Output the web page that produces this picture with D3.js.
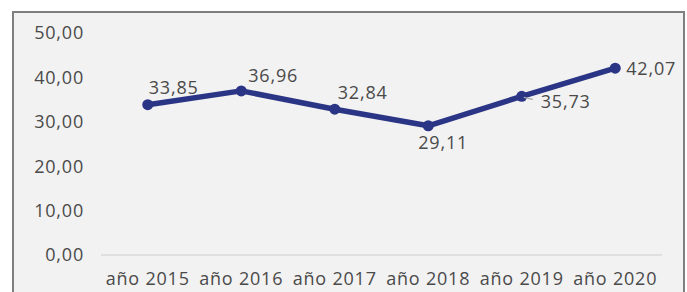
<!DOCTYPE html>
<html>
<head>
<meta charset="utf-8">
<script src="https://cdn.jsdelivr.net/npm/d3@7"></script>
<style>
  body { margin: 0; background: #fff; }
  text { font-family: "Open Sans", Lato, sans-serif; fill: #4a4a4a; letter-spacing: 0.8px; }
</style>
</head>
<body>
<div id="chart"></div>
<script>
const years = ["año 2015", "año 2016", "año 2017", "año 2018", "año 2019", "año 2020"]
const values = [33.85, 36.96, 32.84, 29.11, 35.73, 42.07]
const yTicks = [0, 10, 20, 30, 40, 50]
// label offsets from each point
const labelPos = [
  { dx: 1, dy: -11 },
  { dx: 7, dy: -9 },
  { dx: 3, dy: -10 },
  { dx: -10, dy: 23 },
  { dx: 19, dy: 12 },
  { dx: 11, dy: 7 }
]

const width = 687, height = 292
const svg = d3.select("#chart").append("svg")
  .attr("width", width).attr("height", height)

// frame
svg.append("rect")
  .attr("x", 13).attr("y", 12)
  .attr("width", 671).attr("height", 300)
  .attr("fill", "#f2f2f2")
  .attr("stroke", "#7f7f7f")
  .attr("stroke-width", 2)

const x = d3.scaleBand().domain(years).range([101, 662])
const y = d3.scaleLinear().domain([0, 50]).range([255, 33])
const fmt = v => d3.format(".2f")(v).replace(".", ",")

// y labels
svg.append("g").selectAll("text")
  .data(yTicks)
  .join("text")
  .attr("x", 84)
  .attr("y", d => y(d))
  .attr("dy", "0.35em")
  .attr("text-anchor", "end")
  .attr("font-size", 18)
  .text(fmt)

// baseline
svg.append("line")
  .attr("x1", 101).attr("x2", 662)
  .attr("y1", y(0)).attr("y2", y(0))
  .attr("stroke", "#d9d9d9").attr("stroke-width", 1.5)

// x labels
svg.append("g").selectAll("text")
  .data(years)
  .join("text")
  .attr("x", d => x(d) + x.bandwidth() / 2)
  .attr("y", 285)
  .attr("text-anchor", "middle")
  .attr("font-size", 18)
  .text(d => d)

const cx = (d, i) => x(years[i]) + x.bandwidth() / 2

svg.append("path")
  .datum(values)
  .attr("fill", "none")
  .attr("stroke", "#2b3585")
  .attr("stroke-width", 5.5)
  .attr("stroke-linejoin", "round")
  .attr("d", d3.line().x(cx).y(d => y(d)))

svg.append("g").selectAll("circle")
  .data(values)
  .join("circle")
  .attr("cx", cx)
  .attr("cy", d => y(d))
  .attr("r", 5.5)
  .attr("fill", "#2b3585")

// leader line for 2019 label
svg.append("line")
  .attr("x1", cx(values[4], 4) + 2).attr("y1", y(values[4]) + 1)
  .attr("x2", cx(values[4], 4) + 11).attr("y2", y(values[4]) + 3)
  .attr("stroke", "#a6a6a6").attr("stroke-width", 1.5)

svg.append("g").selectAll("text")
  .data(values)
  .join("text")
  .attr("x", (d, i) => cx(d, i) + labelPos[i].dx)
  .attr("y", (d, i) => y(d) + labelPos[i].dy)
  .attr("font-size", 18)
  .text(fmt)
</script>
</body>
</html>
